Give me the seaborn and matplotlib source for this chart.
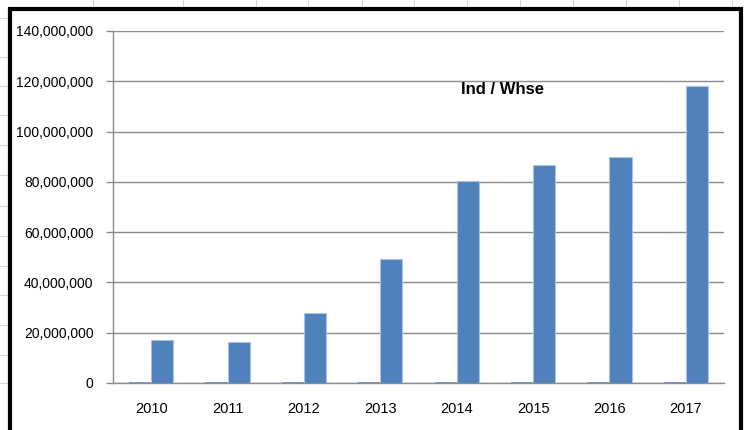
import pandas as pd
import seaborn as sns
import matplotlib.pyplot as plt
from matplotlib.lines import Line2D
from matplotlib.patches import Rectangle

# chart data
years = ['2010', '2011', '2012', '2013', '2014', '2015', '2016', '2017']
ind_whse = [17100000, 16400000, 27800000, 49300000, 80200000, 86700000, 89800000, 118300000]
blank = [0, 0, 0, 0, 0, 0, 0, 0]
yticks = [0, 20000000, 40000000, 60000000, 80000000, 100000000, 120000000, 140000000]

df = pd.DataFrame({
    'year': years * 2,
    'value': blank + ind_whse,
    'series': ['blank'] * len(years) + ['Ind / Whse'] * len(years),
})

sns.set_style('white')
plt.rcParams['font.family'] = ['Liberation Sans Narrow', 'Liberation Sans', 'DejaVu Sans']
plt.rcParams['text.color'] = 'black'
plt.rcParams['xtick.labelcolor'] = 'black'
plt.rcParams['ytick.labelcolor'] = 'black'

fig = plt.figure(figsize=(7.49, 4.30), dpi=100)

# spreadsheet cell lines behind the chart
for x in [93, 183, 256, 308, 362, 414, 467, 520, 573, 626, 679, 732]:
    fig.add_artist(Line2D([x / 749, x / 749], [1, 1 - 9 / 430], color='#d4d4d4', lw=0.8))
for y in [18, 57, 86, 115, 145, 175, 206, 236, 266, 295, 325, 355, 383]:
    fig.add_artist(Line2D([0, 9 / 749], [1 - y / 430, 1 - y / 430], color='#d4d4d4', lw=0.8))

# chart border
fig.add_artist(Rectangle((10 / 749, -0.05), 731 / 749, 1.05 - 9 / 430, transform=fig.transFigure,
                         fill=False, edgecolor='black', lw=3, zorder=5))

ax = fig.add_axes([113 / 749, 1 - 383 / 430, (724 - 113) / 749, (383 - 31) / 430])

sns.barplot(data=df, x='year', y='value', hue='series', hue_order=['blank', 'Ind / Whse'],
            palette=['#5a7fb0', '#4f81bd'], saturation=1, width=0.58, ax=ax, legend=False,
            edgecolor='#a9c3e6', linewidth=0.8, zorder=3)
for p in ax.patches[:len(years)]:
    p.set_edgecolor('#6d8bb3')
    p.set_linewidth(1.2)

ax.set_ylim(0, 140000000)
ax.set_xlim(-0.5, len(years) - 0.5)
ax.set_yticks(yticks)
ax.set_yticklabels([f'{v:,}' for v in yticks], fontsize=10)
ax.yaxis.grid(True, color='#8c8c8c', lw=1, zorder=0)
ax.set_axisbelow(True)

ax.set_xticks(range(len(years)))
ax.set_xticklabels(years, fontsize=10.5)
ax.set_xticks([i - 0.5 for i in range(len(years) + 1)], minor=True)
ax.tick_params(axis='x', which='major', length=0, pad=14)
ax.tick_params(axis='x', which='minor', length=5, color='#8c8c8c', width=1)
ax.tick_params(axis='y', length=5, color='#8c8c8c', width=1, pad=9, left=True)

for s in ['top', 'right']:
    ax.spines[s].set_visible(False)
for s in ['left', 'bottom']:
    ax.spines[s].set_color('#8c8c8c')
    ax.spines[s].set_linewidth(1)

ax.set_xlabel('')
ax.set_ylabel('')

fig.text(503 / 749, 1 - 90 / 430, 'Ind / Whse', ha='center', va='center',
         fontsize=12, fontweight='bold', color='black')

plt.savefig('out.png', dpi=100)
